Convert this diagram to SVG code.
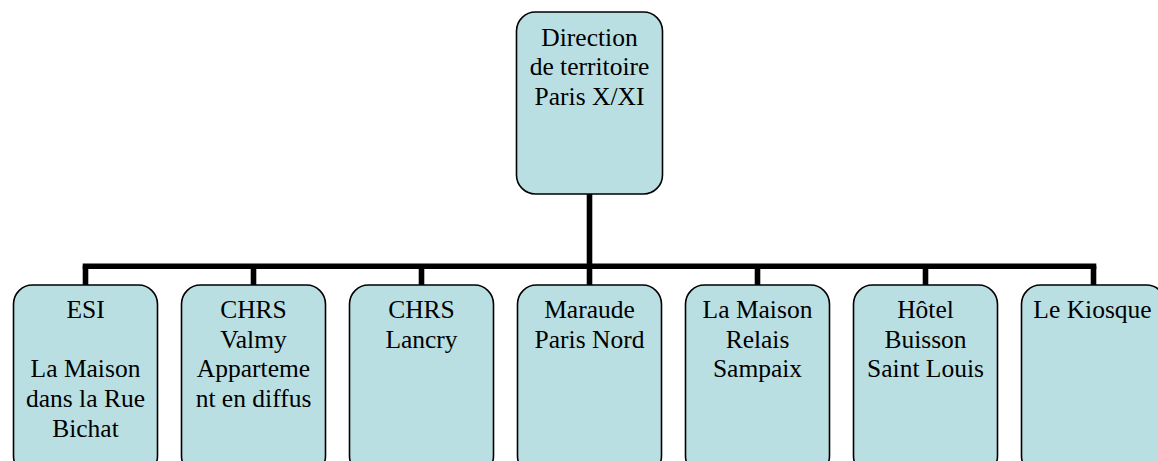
<svg xmlns="http://www.w3.org/2000/svg" width="1158" height="461" viewBox="0 0 1158 461">
<style>
.box{fill:#badfe3;stroke:#000;stroke-width:1.6}
.c{stroke:#000;stroke-width:5.6;fill:none}
</style>
<rect width="1158" height="461" fill="#fff"/>
<g id="connectors">
<line class="c" x1="589.5" y1="194" x2="589.5" y2="266.3"/>
<line class="c" x1="82.7" y1="266.3" x2="1096.3" y2="266.3" stroke-width="6"/>
<line class="c" x1="85.5" y1="266" x2="85.5" y2="285"/>
<line class="c" x1="253.5" y1="266" x2="253.5" y2="285"/>
<line class="c" x1="421.5" y1="266" x2="421.5" y2="285"/>
<line class="c" x1="589.5" y1="266" x2="589.5" y2="285"/>
<line class="c" x1="757.5" y1="266" x2="757.5" y2="285"/>
<line class="c" x1="925.5" y1="266" x2="925.5" y2="285"/>
<line class="c" x1="1093.5" y1="266" x2="1093.5" y2="285"/>
</g>
<g font-family="Liberation Serif, Tinos, Times New Roman, serif" font-size="25.5" text-anchor="middle" fill="#000">
<g id="root">
<rect class="box" x="516.5" y="12" width="146" height="182" rx="19"/>
<text x="589.5" y="45.5">Direction</text>
<text x="589.5" y="75">de territoire</text>
<text x="589.5" y="104.5">Paris X/XI</text>
</g>
<g id="esi">
<rect class="box" x="13.5" y="285" width="144" height="190" rx="19"/>
<text x="85.5" y="317.5">ESI</text>
<text x="85.5" y="377">La Maison</text>
<text x="85.5" y="407">dans la Rue</text>
<text x="85.5" y="437">Bichat</text>
</g>
<g id="valmy">
<rect class="box" x="181.5" y="285" width="144" height="190" rx="19"/>
<text x="253.5" y="317.5">CHRS</text>
<text x="253.5" y="347.5">Valmy</text>
<text x="253.5" y="377">Apparteme</text>
<text x="253.5" y="407">nt en diffus</text>
</g>
<g id="lancry">
<rect class="box" x="349.5" y="285" width="144" height="190" rx="19"/>
<text x="421.5" y="317.5">CHRS</text>
<text x="421.5" y="347.5">Lancry</text>
</g>
<g id="maraude">
<rect class="box" x="517.5" y="285" width="144" height="190" rx="19"/>
<text x="589.5" y="317.5">Maraude</text>
<text x="589.5" y="347.5">Paris Nord</text>
</g>
<g id="sampaix">
<rect class="box" x="685.5" y="285" width="144" height="190" rx="19"/>
<text x="757.5" y="317.5">La Maison</text>
<text x="757.5" y="347.5">Relais</text>
<text x="757.5" y="377">Sampaix</text>
</g>
<g id="hotel">
<rect class="box" x="853.5" y="285" width="144" height="190" rx="19"/>
<text x="925.5" y="317.5">Hôtel</text>
<text x="925.5" y="347.5">Buisson</text>
<text x="925.5" y="377">Saint Louis</text>
</g>
<g id="kiosque">
<rect class="box" x="1021.5" y="285" width="144" height="190" rx="19"/>
<text x="1092.5" y="317.5">Le Kiosque</text>
</g>
</g>
</svg>
